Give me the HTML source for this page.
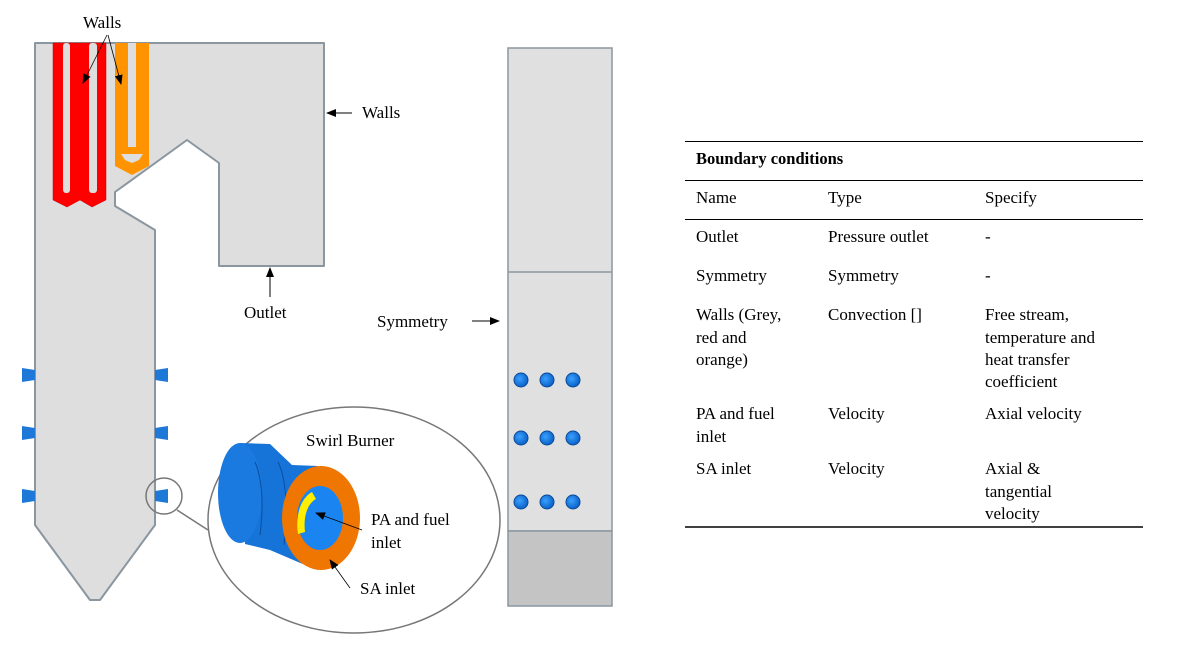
<!DOCTYPE html>
<html><head><meta charset="utf-8"><style>
body{margin:0;background:#fff;}
svg text{font-family:"Liberation Serif",serif;fill:#000;}
</style></head><body>
<svg width="1192" height="663" viewBox="0 0 1192 663" xmlns="http://www.w3.org/2000/svg">
<defs>
<marker id="a" markerWidth="10" markerHeight="8" refX="9" refY="4" orient="auto" markerUnits="userSpaceOnUse"><path d="M0,0L10,4L0,8z" fill="#000"/></marker>
<radialGradient id="b" cx="0.4" cy="0.4" r="0.6"><stop offset="0" stop-color="#3aa0ff"/><stop offset="1" stop-color="#0b62c8"/></radialGradient>
</defs>
<path d="M35,43H324V266H219V163L187,140L115,192V206L155,230V525L100,600H90L35,525Z" fill="#dedede" stroke="#8a96a0" stroke-width="2" stroke-linejoin="round"/>
<path d="M53,43H106V200L92,207L80,200L67,207L53,200Z" fill="#ff0000" stroke="#c00" stroke-width="0.5"/>
<rect x="63" y="43" width="7" height="150" rx="3" fill="#dedede"/>
<rect x="89" y="43" width="8" height="150" rx="3" fill="#dedede"/>
<path d="M115,43H149V166L132,175L115,166Z" fill="#ff9400"/>
<rect x="128" y="43" width="8" height="104" fill="#dedede"/>
<path d="M121,154H143L139,160L132,163L125,160Z" fill="#dedede"/>
<g fill="#1e78d8">
<path d="M22,368l13,2v10l-13,2z"/><path d="M22,426l13,2v10l-13,2z"/><path d="M22,489l13,2v10l-13,2z"/>
<path d="M168,368l-13,2v10l13,2z"/><path d="M168,426l-13,2v10l13,2z"/><path d="M168,489l-13,2v10l13,2z"/>
</g>
<circle cx="164" cy="496" r="18" fill="none" stroke="#777" stroke-width="1.5"/>
<line x1="177" y1="510" x2="208" y2="530" stroke="#777" stroke-width="1.5"/>
<ellipse cx="354" cy="520" rx="146" ry="113" fill="#fff" stroke="#777" stroke-width="1.5"/>
<!-- swirl burner -->
<path d="M240,443L270,444L292,465L318,466L318,570L298,562L270,550L245,544Z" fill="#1673d8"/>
<ellipse cx="240" cy="493" rx="22" ry="50" fill="#1a7ae0"/>
<path d="M255,462C262,478 264,505 260,535" fill="none" stroke="#0a4fa0" stroke-width="1"/>
<path d="M278,462C286,478 288,505 284,545" fill="none" stroke="#0a4fa0" stroke-width="1"/>
<ellipse cx="321" cy="518" rx="39" ry="52" fill="#ef7600"/>
<ellipse cx="320" cy="518" rx="23" ry="32" fill="#1a85f0"/>
<path d="M312,492C301,498 295,515 298,534L305,532C303,516 308,503 316,499Z" fill="#ffee00"/>
<text x="306" y="446" font-size="17">Swirl Burner</text>
<text x="371" y="525" font-size="17">PA and fuel</text>
<text x="371" y="548" font-size="17">inlet</text>
<text x="360" y="594" font-size="17">SA inlet</text>
<line x1="362" y1="530" x2="316" y2="513" stroke="#000" stroke-width="0.8" marker-end="url(#a)"/>
<line x1="350" y1="588" x2="330" y2="560" stroke="#000" stroke-width="0.8" marker-end="url(#a)"/>
<text x="83" y="28" font-size="17">Walls</text>
<line x1="107" y1="35" x2="83" y2="83" stroke="#000" stroke-width="0.8" marker-end="url(#a)"/>
<line x1="108" y1="35" x2="121" y2="84" stroke="#000" stroke-width="0.8" marker-end="url(#a)"/>
<text x="362" y="118" font-size="17">Walls</text>
<line x1="352" y1="113" x2="327" y2="113" stroke="#000" stroke-width="1" marker-end="url(#a)"/>
<text x="244" y="318" font-size="17">Outlet</text>
<line x1="270" y1="297" x2="270" y2="268" stroke="#000" stroke-width="1" marker-end="url(#a)"/>
<rect x="508" y="48" width="104" height="483" fill="#e0e0e0" stroke="#8a96a0" stroke-width="1.5"/>
<rect x="508" y="531" width="104" height="75" fill="#c4c4c4" stroke="#8a96a0" stroke-width="1.5"/>
<line x1="508" y1="272" x2="612" y2="272" stroke="#8a96a0" stroke-width="1.5"/>
<g fill="url(#b)" stroke="#0a4a9a" stroke-width="1">
<circle cx="521" cy="380" r="7"/><circle cx="547" cy="380" r="7"/><circle cx="573" cy="380" r="7"/>
<circle cx="521" cy="438" r="7"/><circle cx="547" cy="438" r="7"/><circle cx="573" cy="438" r="7"/>
<circle cx="521" cy="502" r="7"/><circle cx="547" cy="502" r="7"/><circle cx="573" cy="502" r="7"/>
</g>
<text x="377" y="327" font-size="17">Symmetry</text>
<line x1="472" y1="321" x2="499" y2="321" stroke="#000" stroke-width="1" marker-end="url(#a)"/>
<g stroke="#000" stroke-width="1">
<line x1="685" y1="141.5" x2="1143" y2="141.5"/>
<line x1="685" y1="180.5" x2="1143" y2="180.5"/>
<line x1="685" y1="219.5" x2="1143" y2="219.5"/>
<line x1="685" y1="527" x2="1143" y2="527" stroke-width="1.5"/>
</g>
<g font-size="17">
<text x="696" y="164" font-weight="bold" font-size="16.5">Boundary conditions</text>
<text x="696" y="203">Name</text><text x="828" y="203">Type</text><text x="985" y="203">Specify</text>
<text x="696" y="242">Outlet</text><text x="828" y="242">Pressure outlet</text><text x="985" y="242">-</text>
<text x="696" y="281">Symmetry</text><text x="828" y="281">Symmetry</text><text x="985" y="281">-</text>
<text x="696" y="320">Walls (Grey,</text><text x="696" y="343">red and</text><text x="696" y="365">orange)</text>
<text x="828" y="320">Convection []</text>
<text x="985" y="320">Free stream,</text><text x="985" y="343">temperature and</text><text x="985" y="365">heat transfer</text><text x="985" y="387">coefficient</text>
<text x="696" y="419">PA and fuel</text><text x="696" y="442">inlet</text>
<text x="828" y="419">Velocity</text><text x="985" y="419">Axial velocity</text>
<text x="696" y="474">SA inlet</text><text x="828" y="474">Velocity</text>
<text x="985" y="474">Axial &amp;</text><text x="985" y="497">tangential</text><text x="985" y="519">velocity</text>
</g>
</svg>
</body></html>
